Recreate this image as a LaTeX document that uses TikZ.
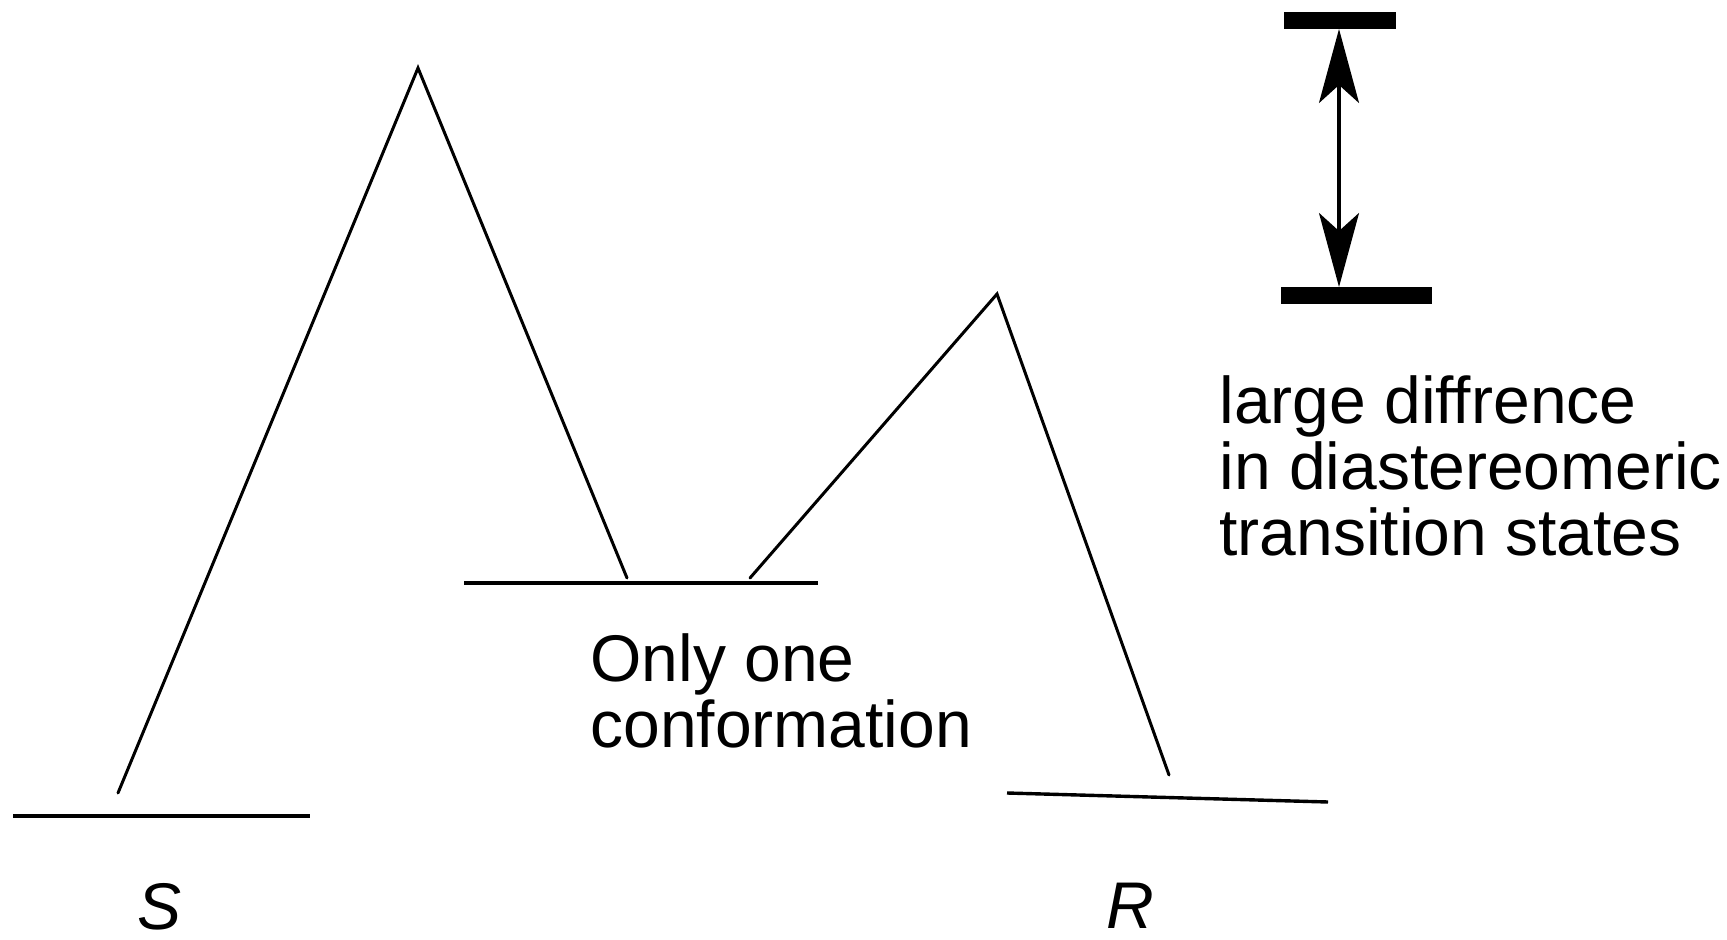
\documentclass[tikz,border=0pt]{standalone}
\usepackage{fontspec}
\setmainfont{Liberation Sans}
\usetikzlibrary{arrows.meta}

\begin{document}
\begin{tikzpicture}[x=0.5pt, y=-0.5pt, >={Stealth[length=37pt,width=20pt,inset=9pt]},
  level/.style={line width=1.7pt},
  slope/.style={line width=1.5pt, line cap=round},
  bar/.style={line width=8.5pt},
  lbl/.style={font=\fontsize{33}{34}\selectfont, inner sep=0pt, anchor=base west}]
  \useasboundingbox (0,0) rectangle (1727,940);
  %% ── Energy levels ──────────────────────────────────────────
  \draw[level] (13,816) -- (310,816);
  \draw[level] (464,583) -- (818,583);
  \draw[level] (1007,793) -- (1328,802);
  %% ── Transition state profile ───────────────────────────────
  \coordinate (tsS) at (418,68);
  \coordinate (tsR) at (997,294);
  \draw[slope] (118,793) -- (tsS) -- (627,578);
  \draw[slope] (750,578) -- (tsR) -- (1169,775);
  %% ── Energy difference marker ───────────────────────────────
  \draw[bar] (1284,20.5) -- (1396,20.5);
  \draw[bar] (1281,295.5) -- (1432,295.5);
  \coordinate (gapT) at (1339,29);
  \coordinate (gapB) at (1339,287);
  \draw[<->, line width=1.6pt] (gapT) -- (gapB);
  %% ── Labels ─────────────────────────────────────────────────
  \node[lbl, anchor=base] (labS) at (160,929) {\itshape S};
  \node[lbl, anchor=base] (labR) at (1130,928) {\itshape R};
  \node[lbl] (conf1) at (590,681) {Only one};
  \node[lbl] (conf2) at (590,747) {conformation};
  \node[lbl] (note1) at (1219,423) {large diffrence};
  \node[lbl] (note2) at (1219,489) {in diastereomeric};
  \node[lbl] (note3) at (1219,555) {transition states};
\end{tikzpicture}
\end{document}
